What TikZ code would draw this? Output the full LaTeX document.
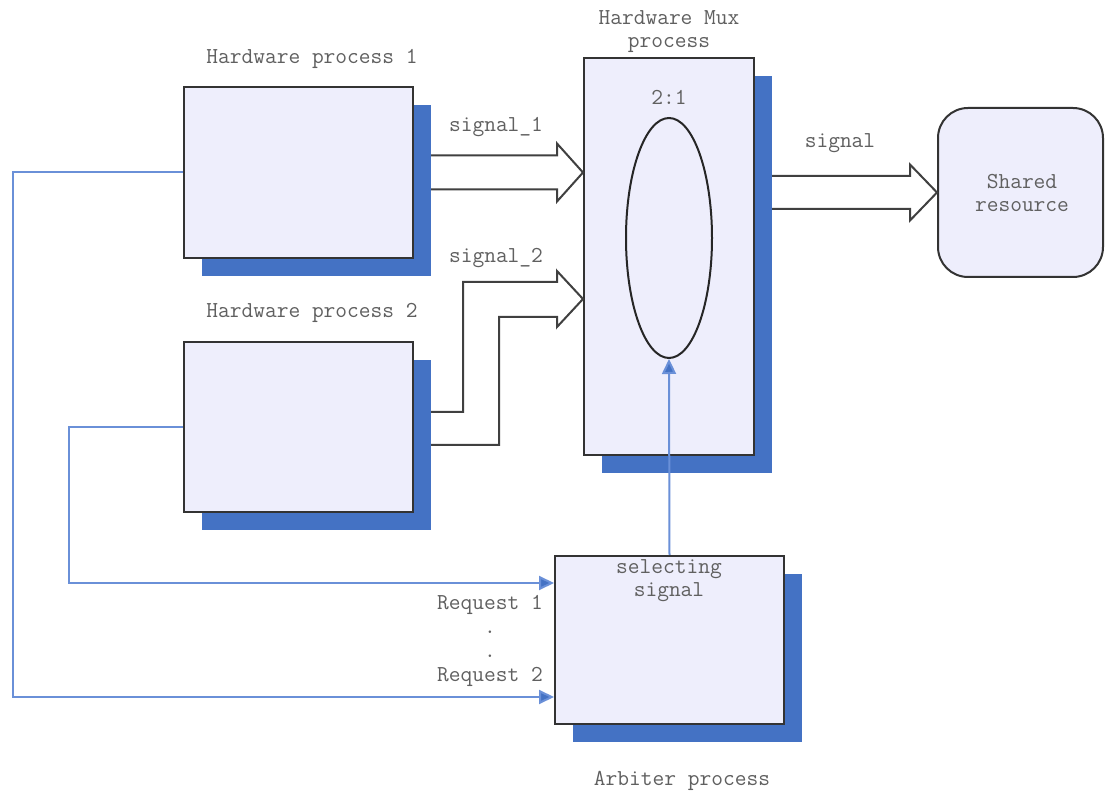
\documentclass[tikz,border=0pt]{standalone}
\usepackage{tikz}
\usetikzlibrary{shapes.geometric,arrows.meta,shadows,calc}
\definecolor{boxfill}{HTML}{EEEEFC}
\definecolor{shadowblue}{HTML}{4472C4}
\definecolor{reqblue}{HTML}{6A90D8}
\definecolor{txtgray}{HTML}{606060}

\begin{document}
\begin{tikzpicture}[x=0.5pt,y=-0.5pt,line join=miter]
\tikzstyle{process} = [rectangle, draw=black!80, line width=1pt, fill=boxfill, inner sep=0pt, drop shadow={shadow xshift=9pt, shadow yshift=-9pt, fill=shadowblue, opacity=1}]
\tikzstyle{lbl} = [text=txtgray, font=\fontsize{11.4pt}{11.5pt}\selectfont\ttfamily, align=center, inner sep=0pt]
\tikzstyle{fat} = [draw=black!75, line width=1pt, fill=white]
\tikzstyle{req} = [draw=reqblue, line width=1pt, -{Triangle[length=7.5pt,width=7pt,fill=shadowblue]}]
\useasboundingbox[fill=white] (0,0) rectangle (1105,791);
% boxes
\node[process, minimum width=114.5pt, minimum height=85.5pt] (hp1) at (298.5,172.5) {};
\node[process, minimum width=114.5pt, minimum height=85pt] (hp2) at (298.5,427) {};
\node[process, minimum width=85pt, minimum height=198.5pt] (mux) at (669,256.5) {};
\node[process, minimum width=114.5pt, minimum height=84pt] (arb) at (669.5,640) {};
\node[rectangle, draw=black!80, line width=1pt, fill=boxfill, rounded corners=15pt, minimum width=82.5pt, minimum height=84.5pt] (res) at (1020.5,192.5) {};
\node[ellipse, draw=black!85, line width=1pt, fill=boxfill, minimum width=43pt, minimum height=120pt, inner sep=0pt] (sel) at (669,238) {};
% labels
\node[lbl] (hp1txt) at (312,59) {Hardware process 1};
\node[lbl] (hp2txt) at (312,313) {Hardware process 2};
\node[lbl] (muxtxt) at (669,31.5) {Hardware Mux\\process};
\node[lbl] (ratio) at (669,97) {2:1};
\node[lbl] (restxt) at (1022,193) {Shared\\resource};
\node[lbl] (seltxt) at (669,581) {selecting\\signal};
\node[lbl, font=\fontsize{11.4pt}{12pt}\selectfont\ttfamily] (reqtxt) at (490,641) {Request 1\\.\\.\\Request 2};
\node[lbl] (arbtxt) at (682,781) {Arbiter process};
\node[lbl] (s1txt) at (496,127) {signal\_1};
\node[lbl] (s2txt) at (496,258) {signal\_2};
\node[lbl] (stxt) at (840,143) {signal};
% wide data arrows
\draw[fat] (431,155.5) -- (557,155.5) -- (557,143.5) -- (mux.west |- hp1.east) -- (557,201.5) -- (557,189.5) -- (431,189.5);
\draw[fat] (431,412) -- (463,412) -- (463,282) -- (557,282) -- (557,271) -- ($(mux.west)+(0,42.5)$) -- (557,327) -- (557,317) -- (499,317) -- (499,445) -- (431,445);
\draw[fat] (772,176) -- (910,176) -- (910,164.5) -- (res.west) -- (910,220.5) -- (910,209) -- (772,209);
% request and select lines
\draw[req] (hp1.west) -- ++(-170,0) |- ($(arb.west)+(0,57)$);
\draw[req] (hp2.west) -- ++(-114,0) |- ($(arb.west)+(0,-57)$);
\draw[req] (arb.north) -- (sel.south);
\end{tikzpicture}
\end{document}
